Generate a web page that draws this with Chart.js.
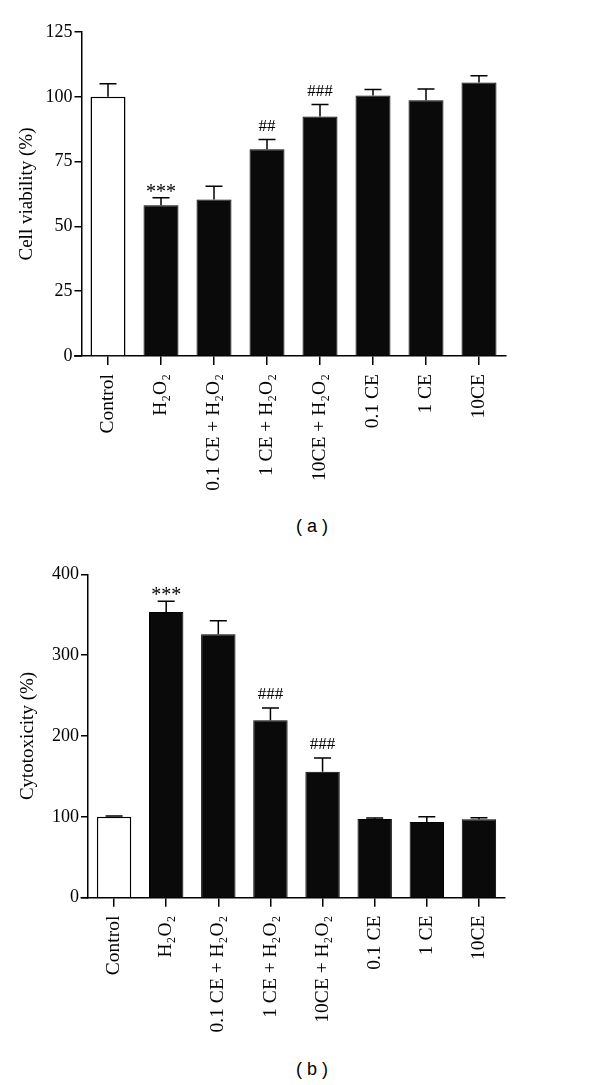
<!DOCTYPE html>
<html><head><meta charset="utf-8">
<script src="https://cdn.jsdelivr.net/npm/chart.js@4.4.1/dist/chart.umd.min.js"></script>
<style>
body{margin:0;background:#fff;width:600px;height:1085px;position:relative;overflow:hidden;}
.box{position:absolute;left:0;width:600px;height:500px;}
.cap{position:absolute;left:0;width:624px;text-align:center;font-family:"Liberation Sans",Arial,sans-serif;font-size:18px;line-height:21px;color:#000;}
</style></head><body>
<div class="box" id="b1" style="top:0px"><canvas id="c1"></canvas></div>
<div class="cap" style="top:516px">( a )</div>
<div class="box" id="b2" style="top:545px"><canvas id="c2"></canvas></div>
<div class="cap" style="top:1059px">( b )</div>
<script>
const categories = ['Control','H\u2082O\u2082','0.1 CE + H\u2082O\u2082','1 CE + H\u2082O\u2082','10CE + H\u2082O\u2082','0.1 CE','1 CE','10CE'];
const viabilityMeans = [100, 58.2, 60.4, 79.8, 92.4, 100.5, 98.7, 105.5];
const viabilityErr   = [5.0, 2.9, 5.1, 3.7, 4.6, 2.3, 4.3, 2.6];
const viabilityMarks = ['', '***', '', '##', '###', '', '', ''];
const viabilityTicks = {min:0, max:125, step:25};
const cytoMeans = [100, 353.4, 326, 219.4, 155.9, 97.3, 93.6, 97];
const cytoErr   = [1.2, 13.2, 16.6, 15.2, 16.9, 1.2, 6.6, 2.0];
const cytoMarks = ['', '***', '', '###', '###', '', '', ''];
const cytoTicks = {min:0, max:400, step:100};

const serif = '"Liberation Serif","Times New Roman",serif';

const errorBarPlugin = {
  id:'errorBars',
  afterDatasetsDraw(chart, args, opts){
    const ctx = chart.ctx, y = chart.scales.y;
    const meta = chart.getDatasetMeta(0);
    ctx.save();
    ctx.strokeStyle = '#000'; ctx.lineWidth = 1.5; ctx.fillStyle = '#000';
    meta.data.forEach((bar, i) => {
      const v = opts.means[i], e = opts.errors[i];
      const xc = bar.x, yTop = y.getPixelForValue(v), yErr = y.getPixelForValue(v + e);
      ctx.beginPath();
      ctx.moveTo(xc, yTop); ctx.lineTo(xc, yErr);
      ctx.moveTo(xc - 8.5, yErr); ctx.lineTo(xc + 8.5, yErr);
      ctx.stroke();
      const m = opts.marks[i];
      if (m) {
        const star = m[0] === '*';
        ctx.font = (star ? '20px ' : '17px ') + serif;
        ctx.textAlign = 'center'; ctx.textBaseline = 'alphabetic';
        ctx.fillText(m, xc, yErr - (star ? 0 : 9));
      }
    });
    ctx.restore();
  },
  afterDraw(chart){
    const ctx = chart.ctx, a = chart.chartArea;
    ctx.save();
    ctx.strokeStyle = '#000'; ctx.lineWidth = 1.5;
    ctx.beginPath(); ctx.moveTo(a.left - 7.5, a.bottom); ctx.lineTo(a.left, a.bottom); ctx.stroke();
    ctx.restore();
  }
};

function makeChart(id, means, errs, marks, title, t, g){
  new Chart(document.getElementById(id), {
    type:'bar',
    data:{labels:categories, datasets:[{
      data:means,
      backgroundColor: means.map((v,i)=> i===0 ? '#ffffff' : '#0a0a0a'),
      borderColor:'#000',
      borderWidth: means.map((v,i)=> i===0 ? 1.5 : 1),
      categoryPercentage:1, barPercentage:0.66
    }]},
    options:{
      responsive:true, maintainAspectRatio:false, animation:false,
      layout:{padding:{left:g.padL, top:g.padT, right:g.padR, bottom:0}},
      plugins:{legend:{display:false}, tooltip:{enabled:false},
        errorBars:{means:means, errors:errs, marks:marks}},
      scales:{
        x:{
          grid:{display:true, drawOnChartArea:false, offset:false, tickLength:9, color:'#000', lineWidth:1.5},
          border:{display:true, color:'#000', width:1.5},
          ticks:{autoSkip:false, maxRotation:90, minRotation:90, padding:9, color:'#000', font:{family:serif, size:19.5}},
          afterFit(s){ s.height = g.xH; }
        },
        y:{
          min:t.min, max:t.max,
          grid:{display:true, drawOnChartArea:false, tickLength:7, color:'#000', lineWidth:1.5},
          border:{display:true, color:'#000', width:1.5},
          ticks:{stepSize:t.step, padding:2, color:'#000', font:{family:serif, size:18}},
          title:{display:true, text:title, color:'#000', font:{family:serif, size:19}, padding:{top:4, bottom:0}},
          afterFit(s){ s.width = g.yW; }
        }
      }
    },
    plugins:[errorBarPlugin]
  });
}

makeChart('c1', viabilityMeans, viabilityErr, viabilityMarks, 'Cell viability (%)', viabilityTicks,
  {padL:11.6, padT:32, padR:94.5, yW:69.9, xH:144});
makeChart('c2', cytoMeans, cytoErr, cytoMarks, 'Cytotoxicity (%)', cytoTicks,
  {padL:12.6, padT:29.3, padR:95, yW:75.4, xH:147.3});
</script>
</body></html>
